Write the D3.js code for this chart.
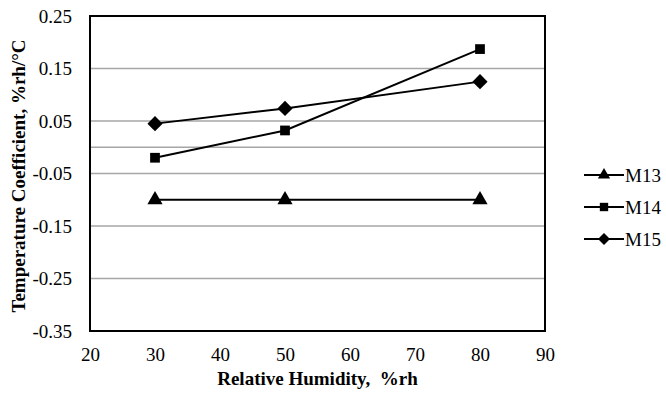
<!DOCTYPE html>
<html>
<head>
<meta charset="utf-8">
<script src="https://cdn.jsdelivr.net/npm/d3@7"></script>
<style>
  body { margin: 0; background: #fff; }
</style>
</head>
<body>
<div id="chart"></div>
<script>
// humidity points, %rh
var humidity = [30, 50, 80];
var seriesNames = ['M13', 'M14', 'M15'];
var m13 = [-0.10, -0.10, -0.10];
var m14 = [-0.02, 0.032, 0.187];
var m15 = [0.045, 0.074, 0.125];
var yTicks = [-0.35, -0.25, -0.15, -0.05, 0.05, 0.15, 0.25];
var xTicks = [20, 30, 40, 50, 60, 70, 80, 90];

var serif = '"Liberation Serif"';

var W = 666, H = 394;
var margin = {top: 16, right: 121, bottom: 63, left: 90},
    width = W - margin.left - margin.right,
    height = H - margin.top - margin.bottom;

var svg = d3.select('#chart')
    .append('svg')
        .attr('width', W)
        .attr('height', H)
    .append('g')
        .attr('transform', 'translate(' + margin.left + ',' + margin.top + ')');

var x = d3.scaleLinear().domain([20, 90]).range([0, width]);
var y = d3.scaleLinear().domain([-0.35, 0.25]).range([height, 0]);

// gridlines
svg.append('g')
    .selectAll('line')
    .data(yTicks.slice(1, -1))
    .enter()
    .append('line')
    .attr('x1', 0).attr('x2', width)
    .attr('y1', d => y(d)).attr('y2', d => y(d))
    .style('stroke', '#a6a6a6')
    .style('stroke-width', 1.5);

// zero line (horizontal axis crossing)
svg.append('line')
    .attr('x1', 0).attr('x2', width)
    .attr('y1', y(0)).attr('y2', y(0))
    .style('stroke', '#a6a6a6')
    .style('stroke-width', 1.5);

// frame
svg.append('rect')
    .attr('width', width)
    .attr('height', height)
    .style('fill', 'none')
    .style('stroke', '#000')
    .style('stroke-width', 2);

var yAxis = d3.axisLeft(y)
    .tickValues(yTicks)
    .tickSize(0)
    .tickPadding(18)
    .tickFormat(d => d.toFixed(2));

var xAxis = d3.axisBottom(x)
    .tickValues(xTicks)
    .tickSize(0)
    .tickPadding(17)
    .tickFormat(d => d.toString());

svg.append('g')
    .attr('class', 'y-axis')
    .call(yAxis)
    .attr('font-family', null)
    .attr('font-size', null)
    .call(g => g.select('.domain').remove())
    .selectAll('text')
    .style('font-size', '19px')
    .style('font-family', serif)
    .style('fill', '#000');

svg.append('g')
    .attr('class', 'x-axis')
    .attr('transform', 'translate(0,' + height + ')')
    .call(xAxis)
    .attr('font-family', null)
    .attr('font-size', null)
    .call(g => g.select('.domain').remove())
    .selectAll('text')
    .style('font-size', '19px')
    .style('font-family', serif)
    .style('fill', '#000');

// axis titles
svg.append('text')
    .attr('x', width / 2)
    .attr('y', height + 54)
    .attr('text-anchor', 'middle')
    .style('font-family', serif)
    .style('font-size', '19px')
    .style('font-weight', 'bold')
    .style('white-space', 'pre')
    .text('Relative Humidity,  %rh');

svg.append('text')
    .attr('transform', 'translate(' + (-65) + ',' + 160 + ') rotate(-90)')
    .attr('text-anchor', 'middle')
    .style('font-family', serif)
    .style('font-size', '19px')
    .style('font-weight', 'bold')
    .text('Temperature Coefficient, %rh/°C');

var symbols = [d3.symbolTriangle, d3.symbolSquare, d3.symbolSquare];
var sizes = [100, 95, 115];
var legendSizes = [65, 70, 72];
var rotations = [0, 0, 45];
var allSeries = [m13, m14, m15];

var line = d3.line()
    .x((d, i) => x(humidity[i]))
    .y(d => y(d));

allSeries.forEach((vals, s) => {
    svg.append('path')
        .datum(vals)
        .attr('d', line)
        .style('fill', 'none')
        .style('stroke', '#000')
        .style('stroke-width', 2);

    svg.append('g')
        .selectAll('path')
        .data(vals)
        .enter()
        .append('path')
        .attr('d', d3.symbol().type(symbols[s]).size(sizes[s]))
        .attr('transform', (d, i) => 'translate(' + x(humidity[i]) + ',' + y(d) + ') rotate(' + rotations[s] + ')')
        .style('fill', '#000');
});

// legend
var legend = svg.append('g')
    .attr('transform', 'translate(' + (width + 39) + ',0)');

seriesNames.forEach((name, s) => {
    var ly = [159, 191, 223][s];
    var row = legend.append('g').attr('transform', 'translate(0,' + ly + ')');
    row.append('line')
        .attr('x1', 0).attr('x2', 40)
        .style('stroke', '#000')
        .style('stroke-width', 2);
    row.append('path')
        .attr('d', d3.symbol().type(symbols[s]).size(legendSizes[s]))
        .attr('transform', 'translate(20,0) rotate(' + rotations[s] + ')')
        .style('fill', '#000');
    row.append('text')
        .attr('x', 41)
        .attr('dy', '0.35em')
        .style('font-family', serif)
        .style('font-size', '19px')
        .text(name);
});
</script>
</body>
</html>
